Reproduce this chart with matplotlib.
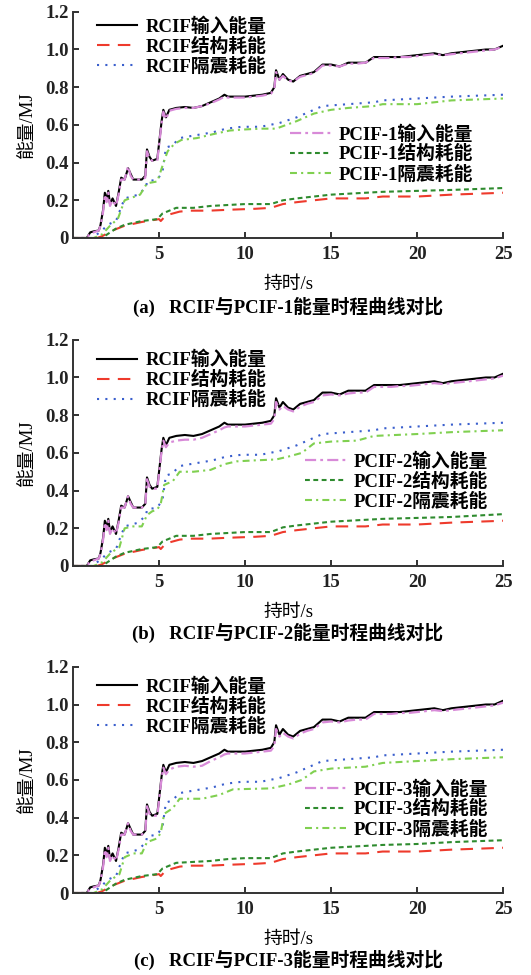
import matplotlib
matplotlib.use("Agg")
import matplotlib.pyplot as plt

plt.rcParams['font.family'] = ['Liberation Serif', 'Noto Sans CJK SC']
plt.rcParams['font.weight'] = 'bold'
plt.rcParams['lines.scale_dashes'] = False

# time grid of the input-energy curves (s)
t_in = [0, 0.8, 1.0, 1.2, 1.5, 1.6, 1.75, 1.85, 1.95, 2.05,
        2.15, 2.3, 2.5, 2.65, 2.8, 3.0, 3.2, 3.35, 3.5, 4.0,
        4.2, 4.3, 4.45, 4.6, 4.9, 5.0, 5.15, 5.25, 5.4, 5.6,
        6.0, 6.5, 7.0, 7.5, 8.0, 8.5, 8.8, 9.0, 9.5, 10.0,
        10.5, 11.0, 11.5, 11.7, 11.8, 12.0, 12.2, 12.5, 12.8, 13.2,
        13.6, 14.0, 14.5, 15.0, 15.5, 16.0, 16.5, 17.0, 17.5, 18.0,
        18.5, 19.0, 19.5, 20.0, 20.5, 21.0, 21.5, 22.0, 22.5, 23.0,
        23.5, 24.0, 24.5, 25.0]

rcif_in = [0, 0, 0.03, 0.035, 0.04, 0.07, 0.15, 0.24, 0.20, 0.25,
           0.18, 0.21, 0.17, 0.24, 0.32, 0.31, 0.37, 0.34, 0.31, 0.31,
           0.33, 0.47, 0.43, 0.41, 0.42, 0.50, 0.62, 0.68, 0.64, 0.68,
           0.69, 0.695, 0.69, 0.70, 0.72, 0.74, 0.76, 0.75, 0.75, 0.75,
           0.755, 0.76, 0.77, 0.80, 0.89, 0.84, 0.87, 0.84, 0.83, 0.86,
           0.87, 0.88, 0.92, 0.92, 0.91, 0.93, 0.93, 0.93, 0.96, 0.96,
           0.96, 0.96, 0.965, 0.97, 0.975, 0.98, 0.97, 0.98, 0.985, 0.99,
           0.995, 1.0, 1.0, 1.02]

pcif1_in = [0, 0, 0.025, 0.03, 0.04, 0.065, 0.14, 0.23, 0.19, 0.24,
            0.17, 0.20, 0.17, 0.23, 0.31, 0.31, 0.38, 0.33, 0.31, 0.31,
            0.32, 0.46, 0.42, 0.41, 0.41, 0.49, 0.61, 0.67, 0.63, 0.675,
            0.685, 0.69, 0.69, 0.70, 0.715, 0.735, 0.75, 0.745, 0.745, 0.745,
            0.75, 0.755, 0.765, 0.79, 0.88, 0.84, 0.86, 0.835, 0.83, 0.855,
            0.865, 0.875, 0.915, 0.915, 0.91, 0.925, 0.925, 0.93, 0.955, 0.955,
            0.955, 0.96, 0.96, 0.965, 0.97, 0.975, 0.97, 0.975, 0.98, 0.985,
            0.99, 0.995, 1.0, 1.015]

pcif2_in = [0, 0, 0.025, 0.03, 0.04, 0.065, 0.14, 0.23, 0.19, 0.24,
            0.17, 0.20, 0.17, 0.23, 0.31, 0.31, 0.37, 0.33, 0.31, 0.31,
            0.32, 0.46, 0.42, 0.41, 0.41, 0.49, 0.61, 0.665, 0.63, 0.655,
            0.665, 0.67, 0.67, 0.68, 0.70, 0.72, 0.735, 0.74, 0.74, 0.74,
            0.745, 0.75, 0.755, 0.78, 0.87, 0.83, 0.85, 0.83, 0.82, 0.845,
            0.86, 0.87, 0.905, 0.91, 0.905, 0.915, 0.92, 0.92, 0.95, 0.95,
            0.95, 0.955, 0.955, 0.96, 0.965, 0.97, 0.965, 0.97, 0.975, 0.98,
            0.985, 0.99, 0.995, 1.01]

pcif3_in = [0, 0, 0.025, 0.03, 0.04, 0.065, 0.14, 0.23, 0.19, 0.24,
            0.17, 0.20, 0.17, 0.23, 0.31, 0.31, 0.37, 0.33, 0.31, 0.31,
            0.32, 0.46, 0.42, 0.41, 0.41, 0.49, 0.61, 0.665, 0.63, 0.655,
            0.67, 0.675, 0.67, 0.675, 0.70, 0.72, 0.735, 0.74, 0.74, 0.74,
            0.745, 0.75, 0.755, 0.78, 0.87, 0.83, 0.85, 0.83, 0.82, 0.845,
            0.86, 0.87, 0.905, 0.91, 0.905, 0.915, 0.92, 0.92, 0.95, 0.95,
            0.95, 0.955, 0.955, 0.96, 0.965, 0.97, 0.965, 0.97, 0.975, 0.98,
            0.985, 0.99, 0.995, 1.01]

# RCIF isolation-layer dissipated energy
t_rcif_iso = [0, 1.1, 1.7, 2.0, 2.5, 2.7, 3.0, 3.8, 4.25, 4.3, 4.9, 5.2, 5.4,
              5.75, 6.2, 6.8, 8.1, 8.9, 9.8, 10.9, 12.0, 13.0, 14.0, 14.5,
              16.0, 17.5, 18.0, 20.0, 22.0, 25.0]
rcif_iso = [0, 0, 0.04, 0.07, 0.09, 0.14, 0.21, 0.23, 0.27, 0.30, 0.31, 0.35, 0.48,
            0.49, 0.53, 0.54, 0.56, 0.58, 0.59, 0.59, 0.61, 0.64, 0.68, 0.70,
            0.71, 0.72, 0.73, 0.74, 0.75, 0.76]

# RCIF structural dissipated energy
t_rcif_str = [0, 1.4, 1.7, 2.3, 3.0, 4.0, 5.0, 5.1, 5.4, 6.2, 6.8, 7.9, 9.1,
              10.6, 11.5, 12.2, 13.0, 14.0, 15.0, 17.0, 18.0, 20.0, 22.0, 25.0]
rcif_str = [0, 0, 0.01, 0.04, 0.065, 0.085, 0.10, 0.09, 0.12, 0.14, 0.145, 0.145, 0.15,
            0.155, 0.16, 0.18, 0.19, 0.20, 0.21, 0.21, 0.22, 0.22, 0.23, 0.24]

# PCIF structural dissipated energy
t_pcif_str = [0, 1.7, 2.0, 2.5, 3.0, 4.0, 4.9, 5.2, 6.0, 7.0, 8.0, 9.0, 10.0,
              11.5, 12.2, 13.0, 14.0, 15.0, 16.0, 17.0, 18.0, 20.0, 22.0, 25.0]
pcif1_str = [0, 0, 0.02, 0.05, 0.07, 0.09, 0.10, 0.13, 0.16, 0.16, 0.17, 0.175, 0.18,
             0.18, 0.20, 0.21, 0.22, 0.23, 0.235, 0.24, 0.245, 0.25, 0.255, 0.265]
pcif2_str = [0, 0, 0.02, 0.05, 0.07, 0.09, 0.10, 0.13, 0.16, 0.16, 0.17, 0.175, 0.18,
             0.18, 0.205, 0.215, 0.225, 0.235, 0.24, 0.245, 0.25, 0.255, 0.26, 0.275]
pcif3_str = [0, 0, 0.02, 0.05, 0.07, 0.09, 0.10, 0.13, 0.16, 0.165, 0.17, 0.18, 0.185,
             0.185, 0.21, 0.22, 0.23, 0.24, 0.245, 0.25, 0.255, 0.26, 0.27, 0.28]

# PCIF isolation-layer dissipated energy
t_pcif1_iso = [0, 1.2, 1.7, 2.2, 2.6, 3.0, 3.3, 3.9, 4.3, 4.9, 5.3, 5.5, 5.9, 6.3,
               7.2, 8.1, 9.1, 9.8, 10.9, 11.8, 13.0, 14.0, 15.0, 16.0, 17.5, 18.0,
               20.0, 22.0, 25.0]
pcif1_iso = [0, 0, 0.02, 0.07, 0.10, 0.20, 0.21, 0.23, 0.29, 0.30, 0.41, 0.46, 0.50, 0.52,
             0.53, 0.55, 0.57, 0.575, 0.58, 0.58, 0.62, 0.66, 0.68, 0.69, 0.70, 0.71,
             0.71, 0.73, 0.74]
t_pcif2_iso = [0, 1.2, 1.7, 2.2, 2.7, 3.0, 3.5, 4.0, 4.3, 4.6, 4.9, 5.1, 5.3, 5.8,
               6.2, 7.0, 8.0, 8.8, 9.5, 10.5, 11.8, 12.5, 13.3, 14.0, 15.0, 16.5,
               17.5, 20.0, 22.0, 25.0]
pcif2_iso = [0, 0, 0.02, 0.07, 0.10, 0.20, 0.21, 0.21, 0.27, 0.29, 0.30, 0.33, 0.43, 0.45,
             0.50, 0.50, 0.51, 0.54, 0.555, 0.56, 0.565, 0.58, 0.60, 0.65, 0.66, 0.665,
             0.69, 0.70, 0.71, 0.72]
t_pcif3_iso = [0, 1.2, 1.7, 2.2, 2.7, 3.0, 3.5, 4.0, 4.3, 4.6, 4.9, 5.1, 5.3, 5.8,
               6.2, 7.5, 8.5, 9.3, 11.5, 12.5, 13.3, 14.0, 15.0, 17.0, 18.0, 20.0,
               22.0, 25.0]
pcif3_iso = [0, 0, 0.02, 0.07, 0.10, 0.19, 0.21, 0.21, 0.27, 0.28, 0.29, 0.32, 0.42, 0.45,
             0.50, 0.50, 0.52, 0.55, 0.555, 0.575, 0.60, 0.645, 0.66, 0.67, 0.69, 0.70,
             0.71, 0.72]

panels = [
    ("1", pcif1_in, t_pcif1_iso, pcif1_iso, pcif1_str, "(a)"),
    ("2", pcif2_in, t_pcif2_iso, pcif2_iso, pcif2_str, "(b)"),
    ("3", pcif3_in, t_pcif3_iso, pcif3_iso, pcif3_str, "(c)"),
]

fig = plt.figure(figsize=(5.31, 9.75), dpi=100)
ax_bottoms = [0.7559, 0.4195, 0.0841]
leg1_y = [0.975, 0.952, 0.955]
leg2_xy = [(0.505, 0.50), (0.54, 0.502), (0.54, 0.50)]
cap_y = [0.685, 0.3508, 0.0154]

fs = 13.5
for i, (k, p_in, tp_iso, p_iso, p_str, tag) in enumerate(panels):
    ax = fig.add_axes([0.1375, ax_bottoms[i], 0.810, 0.232])
    h1, = ax.plot(t_in, rcif_in, color='black', lw=1.5, label='RCIF输入能量')
    h2, = ax.plot(t_rcif_str, rcif_str, color='#ee3a2c', lw=1.5, dashes=(9, 6),
                  label='RCIF结构耗能')
    h3, = ax.plot(t_rcif_iso, rcif_iso, color='#3a5fcd', lw=1.5, dashes=(1.5, 4.5),
                  label='RCIF隔震耗能')
    h4, = ax.plot(t_in, p_in, color='#d88ad8', lw=1.6, dashes=(8, 3, 2, 3),
                  label='PCIF-' + k + '输入能量')
    h5, = ax.plot(t_pcif_str, p_str, color='#2e8b2e', lw=1.5, dashes=(3.5, 2.5),
                  label='PCIF-' + k + '结构耗能')
    h6, = ax.plot(tp_iso, p_iso, color='#80d050', lw=1.5, dashes=(5, 3, 1.5, 3),
                  label='PCIF-' + k + '隔震耗能')

    ax.set_xlim(0, 25)
    ax.set_ylim(0, 1.2)
    ax.set_xticks([5, 10, 15, 20, 25])
    ax.set_yticks([0, 0.2, 0.4, 0.6, 0.8, 1.0, 1.2])
    ax.set_yticklabels(['0', '0.2', '0.4', '0.6', '0.8', '1.0', '1.2'])
    ax.spines['top'].set_visible(False)
    ax.spines['right'].set_visible(False)
    for s in ('left', 'bottom'):
        ax.spines[s].set_linewidth(1.4)
        ax.spines[s].set_color('#333333')
    ax.tick_params(direction='in', length=4, width=1.3, labelsize=fs, colors='#222222')
    ax.tick_params(axis='x', pad=6)
    ax.tick_params(axis='y', pad=3)
    ax.set_xlabel('持时/s', fontsize=fs, labelpad=9)
    ax.set_ylabel('能量/MJ', fontsize=fs, labelpad=7)

    leg1 = ax.legend(handles=[h1, h2, h3], loc='upper left', bbox_to_anchor=(0.056, leg1_y[i]),
                     frameon=False, fontsize=fs, handlelength=2.15, handletextpad=0.43,
                     labelspacing=0.1, borderpad=0, borderaxespad=0)
    ax.add_artist(leg1)
    ax.legend(handles=[h4, h5, h6], loc='upper left', bbox_to_anchor=leg2_xy[i],
              frameon=False, fontsize=fs, handlelength=2.15, handletextpad=0.43,
              labelspacing=0.1, borderpad=0, borderaxespad=0)

    fig.text(0.5424, cap_y[i], tag + '   RCIF与PCIF-' + k + '能量时程曲线对比',
             ha='center', va='center', fontsize=fs)

fig.savefig('out.png', dpi=100)
